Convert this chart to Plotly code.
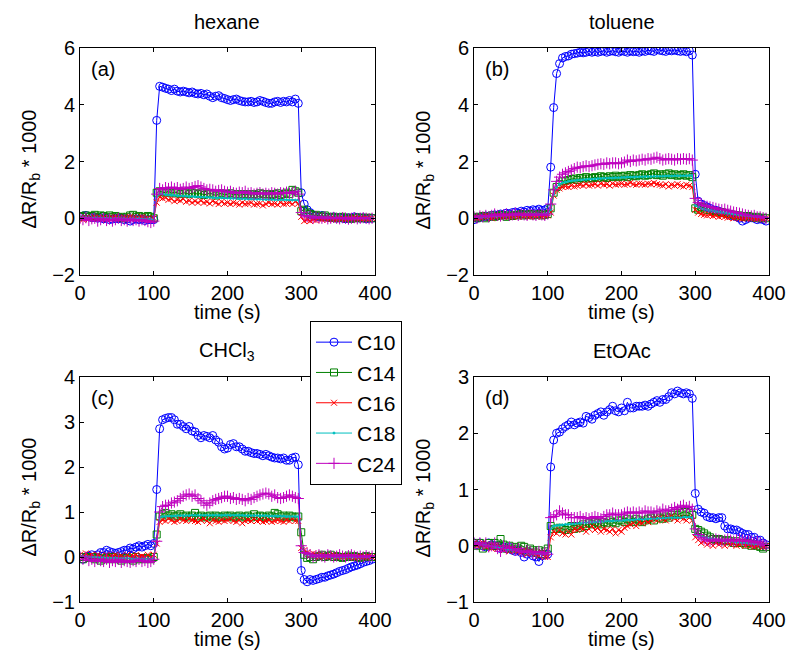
import plotly.graph_objects as go

# time axis (s), sampled every 4 s
time_s = list(range(0, 400, 4))

series_names = ["C10", "C14", "C16", "C18", "C24"]
panel_titles = ["hexane", "toluene", "CHCl<sub>3</sub>", "EtOAc"]
panel_tags = ["(a)", "(b)", "(c)", "(d)"]
x_ticks = [0, 100, 200, 300, 400]
y_ranges = [[-2, 6], [-2, 6], [-1, 4], [-1, 3]]
y_ticks = [[-2, 0, 2, 4, 6], [-2, 0, 2, 4, 6], [-1, 0, 1, 2, 3, 4], [-1, 0, 1, 2, 3]]

# ---------------- (a) hexane ----------------
a_C10 = [0.05,0.08,0.1,0.05,0.02,0.03,0.0,0.02,-0.02,0.0,-0.05,-0.03,0.0,-0.02,0.0,-0.05,-0.03,-0.1,-0.05,-0.02,-0.05,-0.03,-0.08,-0.05,-0.05,
         -0.05,3.45,4.65,4.62,4.58,4.55,4.5,4.55,4.48,4.45,4.48,4.45,4.42,4.45,4.4,4.38,4.4,4.35,4.38,4.3,4.25,4.3,4.32,4.25,4.22,
         4.18,4.15,4.18,4.2,4.15,4.12,4.1,4.1,4.12,4.08,4.1,4.15,4.12,4.08,4.05,4.05,4.1,4.12,4.08,4.12,4.1,4.15,4.1,4.2,4.05,
         0.9,0.5,0.3,0.2,0.12,0.08,0.05,0.1,0.05,0.03,0.02,0.05,0.0,0.03,0.0,-0.02,0.02,0.0,0.05,0.03,0.0,0.02,-0.02,0.0,0.0]
a_C14 = [0.08,0.05,0.1,0.05,0.08,0.12,0.05,0.1,0.08,0.05,0.1,0.05,0.08,0.03,0.05,0.0,0.05,0.1,0.12,0.05,0.08,0.03,0.05,0.08,0.05,
         0.0,0.9,0.95,0.92,0.9,0.95,0.88,0.92,0.9,0.85,0.9,0.88,0.85,0.9,0.88,0.85,0.88,0.82,0.85,0.88,0.85,0.8,0.85,0.88,0.82,
         0.85,0.88,0.82,0.85,0.8,0.85,0.82,0.85,0.8,0.85,0.82,0.88,0.85,0.8,0.85,0.82,0.85,0.88,0.82,0.85,0.9,0.85,1.0,0.95,0.9,
         0.25,0.3,0.2,0.15,0.1,0.12,0.08,0.05,0.1,0.05,0.02,0.05,0.0,0.03,0.05,0.0,0.02,-0.02,0.0,0.03,0.0,0.02,0.0,0.02,0.0]
a_C16 = [0.0,-0.05,0.02,-0.03,0.0,0.05,-0.02,0.0,0.03,-0.05,0.0,0.02,0.05,0.0,-0.03,0.03,0.0,0.05,0.02,-0.03,0.0,0.05,-0.02,0.0,-0.05,
         0.0,0.55,0.75,0.7,0.72,0.65,0.68,0.6,0.65,0.62,0.68,0.58,0.62,0.55,0.6,0.55,0.62,0.55,0.58,0.52,0.6,0.55,0.5,0.58,0.52,
         0.55,0.5,0.55,0.52,0.48,0.55,0.5,0.52,0.55,0.48,0.5,0.52,0.45,0.5,0.55,0.5,0.52,0.48,0.55,0.5,0.52,0.55,0.5,0.58,0.52,
         0.05,-0.1,-0.05,-0.1,-0.05,-0.08,0.0,-0.05,-0.02,-0.05,0.0,-0.03,-0.05,0.0,-0.02,-0.05,0.0,-0.02,0.02,-0.03,0.0,-0.02,0.0,-0.03,0.0]
a_C18 = [0.03,0.02,0.03,0.02,0.01,0.02,0.0,0.01,0.0,0.01,0.0,-0.01,0.0,0.0,-0.01,0.0,-0.02,0.0,-0.01,-0.02,0.0,-0.02,-0.03,-0.02,-0.03,
         -0.05,0.75,0.85,0.85,0.83,0.82,0.82,0.8,0.8,0.79,0.78,0.78,0.77,0.77,0.76,0.75,0.75,0.74,0.74,0.73,0.73,0.72,0.72,0.72,0.71,
         0.71,0.7,0.7,0.7,0.69,0.69,0.68,0.68,0.68,0.67,0.67,0.67,0.66,0.66,0.66,0.66,0.65,0.65,0.65,0.65,0.65,0.64,0.64,0.64,0.64,
         0.2,0.12,0.08,0.06,0.05,0.04,0.03,0.03,0.02,0.02,0.02,0.01,0.01,0.01,0.0,0.0,0.0,0.0,0.0,0.0,0.0,0.0,0.0,0.0,0.0]
a_C24 = [0.0,-0.05,0.02,-0.08,-0.02,0.0,-0.1,-0.05,0.0,-0.08,-0.03,-0.1,-0.05,0.0,-0.08,-0.05,-0.1,-0.02,-0.08,-0.05,-0.1,-0.05,-0.08,-0.12,-0.15,
         -0.1,0.85,1.05,1.0,1.08,1.05,1.1,1.05,1.08,1.02,1.05,1.1,1.05,1.08,1.12,1.15,1.1,1.05,1.0,1.02,1.0,0.95,0.98,1.0,0.95,
         0.92,0.95,0.9,0.88,0.92,0.9,0.95,0.88,0.9,0.85,0.88,0.9,0.85,0.88,0.85,0.9,0.88,0.85,0.9,0.88,0.92,0.88,0.9,0.95,0.85,
         0.2,0.1,0.05,0.08,0.0,0.05,0.02,0.0,0.05,-0.02,0.0,0.03,0.0,-0.02,0.02,0.0,-0.03,0.0,0.02,-0.02,0.0,0.02,0.0,-0.02,0.0]

# ---------------- (b) toluene ----------------
b_C10 = [-0.05,0.0,0.02,0.05,0.08,0.05,0.1,0.12,0.1,0.15,0.12,0.18,0.15,0.2,0.22,0.18,0.25,0.22,0.28,0.25,0.3,0.28,0.32,0.28,0.3,
         0.35,1.8,3.9,5.1,5.45,5.65,5.7,5.72,5.78,5.8,5.82,5.85,5.83,5.85,5.88,5.85,5.87,5.85,5.88,5.9,5.85,5.88,5.9,5.87,5.85,
         5.9,5.88,5.85,5.9,5.87,5.88,5.85,5.9,5.88,5.92,5.9,5.88,5.95,5.92,5.9,5.88,5.92,5.9,5.93,5.9,5.88,5.9,5.87,5.9,5.75,
         1.55,0.6,0.5,0.45,0.4,0.35,0.3,0.28,0.25,0.2,0.18,0.15,0.1,0.08,0.05,0.0,-0.1,-0.05,0.0,0.02,0.0,-0.05,-0.02,-0.05,-0.1]
b_C14 = [0.05,0.0,0.05,0.08,0.0,0.05,0.1,0.05,0.08,0.12,0.1,0.05,0.1,0.08,0.12,0.1,0.15,0.1,0.12,0.15,0.1,0.12,0.15,0.1,0.12,
         0.15,0.35,0.9,1.1,1.2,1.3,1.32,1.35,1.38,1.4,1.35,1.42,1.4,1.45,1.4,1.42,1.45,1.42,1.48,1.45,1.42,1.48,1.45,1.5,1.45,
         1.48,1.5,1.45,1.52,1.5,1.48,1.52,1.55,1.5,1.52,1.55,1.58,1.52,1.55,1.5,1.55,1.58,1.52,1.55,1.5,1.52,1.55,1.5,1.52,1.45,
         0.35,0.3,0.4,0.35,0.3,0.28,0.25,0.25,0.2,0.22,0.18,0.15,0.15,0.12,0.1,0.1,0.08,0.05,0.08,0.05,0.02,0.05,0.0,0.02,0.0]
b_C16 = [0.05,0.0,0.02,0.05,0.1,0.05,0.0,0.05,0.1,0.08,0.05,0.1,0.05,0.08,0.1,0.05,0.12,0.08,0.1,0.05,0.1,0.08,0.12,0.05,0.1,
         0.1,0.2,0.8,1.0,1.05,1.1,1.12,1.1,1.15,1.12,1.15,1.18,1.15,1.2,1.15,1.18,1.2,1.15,1.22,1.18,1.2,1.15,1.22,1.18,1.2,
         1.22,1.18,1.2,1.25,1.2,1.18,1.22,1.2,1.18,1.22,1.2,1.25,1.2,1.18,1.15,1.2,1.12,1.18,1.15,1.2,1.15,1.12,1.18,1.15,1.1,
         0.3,0.2,0.15,0.12,0.1,0.12,0.08,0.1,0.05,0.08,0.05,0.02,0.05,0.0,0.02,0.0,-0.02,0.0,0.02,-0.02,0.0,-0.02,0.0,-0.03,0.0]
b_C18 = [0.02,0.03,0.04,0.05,0.06,0.06,0.07,0.08,0.08,0.09,0.1,0.1,0.1,0.11,0.11,0.12,0.12,0.12,0.13,0.13,0.13,0.14,0.14,0.14,0.15,
         0.15,0.3,0.85,1.1,1.2,1.25,1.28,1.3,1.32,1.33,1.34,1.35,1.36,1.37,1.38,1.38,1.39,1.4,1.4,1.41,1.41,1.42,1.42,1.43,1.43,
         1.44,1.44,1.45,1.45,1.45,1.46,1.46,1.46,1.47,1.47,1.47,1.48,1.48,1.48,1.48,1.49,1.49,1.49,1.5,1.5,1.5,1.5,1.5,1.51,1.5,
         0.45,0.4,0.35,0.32,0.3,0.28,0.26,0.24,0.22,0.2,0.19,0.17,0.16,0.14,0.13,0.12,0.1,0.09,0.08,0.07,0.06,0.05,0.04,0.03,0.02]
b_C24 = [0.05,0.0,0.08,0.05,0.1,0.05,0.1,0.15,0.1,0.08,0.12,0.15,0.1,0.12,0.18,0.1,0.15,0.12,0.1,0.15,0.12,0.1,0.15,0.12,0.1,
         0.15,0.5,1.0,1.3,1.45,1.55,1.6,1.65,1.7,1.75,1.8,1.78,1.82,1.85,1.82,1.85,1.88,1.9,1.92,1.9,1.95,1.92,1.95,1.95,1.92,
         1.95,1.98,2.05,2.0,2.05,2.02,2.05,2.08,2.05,2.1,2.08,2.12,2.15,2.1,2.05,2.08,2.1,2.08,2.05,2.1,2.08,2.1,2.08,2.1,2.05,
         0.7,0.55,0.5,0.45,0.42,0.4,0.38,0.35,0.32,0.3,0.32,0.28,0.25,0.22,0.2,0.18,0.15,0.12,0.1,0.08,0.1,0.05,0.05,0.02,0.0]

# ---------------- (c) CHCl3 ----------------
c_C10 = [0.0,-0.05,0.0,0.02,0.05,0.0,0.05,0.1,0.1,0.15,0.12,0.1,0.08,0.1,0.12,0.15,0.15,0.2,0.18,0.22,0.25,0.22,0.25,0.28,0.25,
         0.3,1.5,2.85,3.05,3.08,3.1,3.1,3.05,2.95,2.95,2.9,2.85,2.9,2.8,2.78,2.7,2.65,2.7,2.68,2.65,2.7,2.6,2.55,2.45,2.4,
         2.42,2.5,2.52,2.45,2.45,2.4,2.35,2.35,2.32,2.3,2.3,2.28,2.25,2.28,2.25,2.22,2.2,2.2,2.18,2.2,2.15,2.15,2.2,2.22,2.05,
         -0.3,-0.5,-0.55,-0.5,-0.52,-0.5,-0.48,-0.45,-0.45,-0.42,-0.4,-0.38,-0.35,-0.32,-0.3,-0.28,-0.25,-0.22,-0.2,-0.18,-0.15,-0.12,-0.1,-0.08,-0.05]
c_C14 = [0.0,-0.05,0.0,-0.02,0.0,-0.05,-0.02,-0.08,-0.05,-0.02,-0.05,0.0,-0.05,-0.02,-0.08,-0.05,-0.02,-0.05,-0.08,0.0,-0.05,-0.03,-0.05,-0.02,-0.05,
         0.0,0.5,0.9,0.95,0.98,0.92,0.95,0.9,0.92,0.95,0.9,0.92,0.88,0.92,0.98,0.9,0.92,0.88,0.9,0.92,0.88,0.92,0.9,0.88,0.92,
         0.9,0.92,0.88,0.9,0.92,0.88,0.9,0.92,0.88,0.95,0.9,0.92,0.9,0.88,0.92,0.9,0.98,0.95,0.9,0.92,0.88,0.92,0.9,0.88,0.9,
         0.55,0.05,-0.02,0.0,-0.05,0.0,0.02,0.05,0.0,0.02,0.05,0.0,0.02,0.0,-0.02,0.0,0.03,0.0,0.02,0.0,-0.02,0.0,0.02,0.0,0.0]
c_C16 = [0.05,0.0,0.08,0.02,0.05,0.0,0.05,0.02,-0.02,0.05,0.0,0.02,0.05,0.0,0.03,-0.02,0.05,0.0,0.02,0.05,0.0,0.02,0.0,0.05,0.0,
         0.05,0.3,0.78,0.82,0.8,0.85,0.82,0.78,0.8,0.85,0.82,0.8,0.85,0.82,0.8,0.78,0.82,0.85,0.8,0.75,0.82,0.8,0.78,0.82,0.8,
         0.82,0.85,0.8,0.78,0.82,0.75,0.8,0.82,0.8,0.85,0.8,0.82,0.78,0.8,0.82,0.78,0.8,0.82,0.8,0.78,0.82,0.8,0.85,0.8,0.8,
         0.2,0.15,0.1,0.05,0.08,0.05,0.0,0.05,0.02,0.0,0.03,0.05,0.0,0.02,0.0,0.03,0.0,0.02,-0.02,0.0,0.02,0.0,0.0,0.02,0.0]
c_C18 = [0.02,0.01,0.01,0.0,0.0,0.0,-0.01,-0.01,-0.01,-0.02,-0.02,-0.02,-0.02,-0.03,-0.03,-0.03,-0.03,-0.03,-0.04,-0.04,-0.04,-0.04,-0.04,-0.04,-0.05,
         -0.02,0.4,0.88,0.9,0.9,0.91,0.91,0.91,0.92,0.92,0.92,0.92,0.92,0.93,0.93,0.93,0.93,0.93,0.93,0.93,0.93,0.93,0.93,0.93,0.93,
         0.93,0.93,0.93,0.93,0.93,0.93,0.92,0.92,0.92,0.92,0.92,0.92,0.92,0.92,0.91,0.91,0.91,0.91,0.91,0.91,0.9,0.9,0.9,0.9,0.9,
         0.25,0.1,0.06,0.04,0.03,0.02,0.02,0.01,0.01,0.01,0.0,0.0,0.0,0.0,0.0,0.0,0.0,0.0,0.0,0.0,0.0,0.0,0.0,0.0,0.0]
c_C24 = [0.0,-0.05,0.0,-0.08,-0.05,-0.1,-0.05,-0.08,-0.1,-0.05,-0.12,-0.08,-0.1,-0.05,-0.12,-0.08,-0.1,-0.12,-0.08,-0.1,-0.05,-0.1,-0.08,-0.12,-0.1,
         -0.05,0.35,1.0,1.12,1.15,1.15,1.2,1.22,1.25,1.3,1.35,1.38,1.4,1.35,1.38,1.3,1.25,1.2,1.15,1.2,1.25,1.28,1.3,1.32,1.35,
         1.35,1.3,1.32,1.28,1.3,1.28,1.25,1.3,1.28,1.32,1.35,1.38,1.4,1.42,1.4,1.35,1.38,1.32,1.3,1.32,1.35,1.38,1.35,1.32,1.3,
         0.25,0.1,0.08,0.05,0.0,0.02,0.05,0.02,0.0,0.05,0.03,0.0,0.02,0.05,0.02,0.0,0.03,0.05,0.02,0.0,0.02,0.0,0.03,0.0,0.02]

# ---------------- (d) EtOAc ----------------
d_C10 = [0.05,0.02,0.05,0.0,-0.02,0.05,0.02,0.0,0.0,-0.05,-0.02,-0.05,-0.03,-0.08,-0.1,-0.08,-0.12,-0.2,-0.15,-0.12,-0.18,-0.2,-0.28,-0.18,-0.15,
         -0.15,1.4,1.88,2.0,2.02,2.08,2.12,2.15,2.2,2.15,2.18,2.2,2.18,2.3,2.28,2.25,2.32,2.35,2.38,2.32,2.38,2.42,2.48,2.4,2.38,
         2.45,2.4,2.55,2.45,2.45,2.48,2.48,2.48,2.5,2.48,2.52,2.55,2.58,2.55,2.6,2.6,2.65,2.72,2.7,2.75,2.72,2.7,2.72,2.7,2.62,
         0.93,0.65,0.6,0.58,0.52,0.5,0.5,0.48,0.5,0.5,0.35,0.3,0.3,0.28,0.28,0.25,0.22,0.2,0.2,0.15,0.15,0.1,0.1,0.05,0.02]
d_C14 = [0.05,0.0,0.05,-0.05,0.0,0.05,0.0,0.05,0.0,0.12,0.02,-0.05,0.0,-0.05,-0.02,-0.05,0.0,-0.02,-0.1,-0.05,-0.08,-0.12,-0.08,-0.15,-0.1,
         -0.05,0.35,0.3,0.3,0.32,0.3,0.28,0.32,0.35,0.3,0.35,0.32,0.38,0.35,0.4,0.38,0.42,0.4,0.38,0.42,0.4,0.45,0.42,0.4,0.45,
         0.45,0.42,0.48,0.45,0.42,0.48,0.45,0.42,0.45,0.48,0.5,0.45,0.55,0.5,0.48,0.52,0.5,0.55,0.58,0.55,0.58,0.6,0.6,0.58,0.55,
         0.3,0.28,0.25,0.22,0.18,0.15,0.12,0.1,0.12,0.1,0.08,0.1,0.08,0.05,0.08,0.05,0.05,0.02,0.05,0.0,0.02,0.0,-0.02,-0.05,-0.02]
d_C16 = [0.05,0.0,0.02,0.05,-0.02,0.0,-0.05,0.0,-0.05,-0.02,-0.08,-0.05,-0.1,-0.05,-0.08,-0.1,-0.12,-0.08,-0.15,-0.1,-0.12,-0.15,-0.18,-0.12,-0.2,
         -0.2,0.15,0.25,0.22,0.28,0.22,0.2,0.25,0.2,0.3,0.28,0.32,0.3,0.25,0.3,0.35,0.28,0.32,0.25,0.3,0.28,0.25,0.3,0.22,0.28,
         0.25,0.32,0.35,0.38,0.4,0.35,0.42,0.4,0.45,0.42,0.45,0.48,0.45,0.5,0.48,0.45,0.5,0.52,0.48,0.45,0.5,0.48,0.45,0.5,0.45,
         0.15,0.1,0.05,0.08,0.02,0.05,0.0,0.05,0.02,0.05,0.0,0.05,0.02,0.05,0.0,0.02,0.05,0.0,0.02,0.0,-0.02,0.0,0.02,-0.02,0.0]
d_C18 = [0.05,0.04,0.03,0.02,0.01,0.0,-0.01,-0.02,-0.03,-0.04,-0.05,-0.06,-0.07,-0.08,-0.08,-0.09,-0.1,-0.11,-0.12,-0.12,-0.13,-0.14,-0.14,-0.15,-0.15,
         -0.15,0.3,0.35,0.36,0.37,0.37,0.38,0.38,0.39,0.39,0.4,0.4,0.41,0.41,0.42,0.42,0.42,0.43,0.43,0.43,0.44,0.44,0.44,0.45,0.45,
         0.45,0.45,0.46,0.46,0.46,0.47,0.47,0.47,0.47,0.48,0.48,0.48,0.48,0.49,0.49,0.49,0.5,0.5,0.5,0.5,0.5,0.51,0.51,0.51,0.5,
         0.2,0.18,0.16,0.15,0.14,0.13,0.12,0.11,0.1,0.1,0.09,0.08,0.08,0.07,0.06,0.06,0.05,0.05,0.04,0.04,0.03,0.03,0.02,0.02,0.02]
d_C24 = [0.05,0.02,0.05,0.0,0.05,-0.02,0.0,0.05,-0.05,-0.1,0.0,-0.05,-0.02,-0.05,-0.08,-0.05,-0.1,-0.12,-0.08,-0.1,-0.15,-0.12,-0.1,-0.15,-0.12,
         -0.15,0.5,0.52,0.55,0.62,0.58,0.55,0.55,0.5,0.5,0.5,0.52,0.48,0.5,0.48,0.5,0.52,0.5,0.48,0.52,0.55,0.55,0.58,0.55,0.55,
         0.55,0.58,0.6,0.58,0.6,0.58,0.6,0.58,0.62,0.6,0.6,0.58,0.62,0.6,0.65,0.62,0.62,0.65,0.68,0.65,0.7,0.72,0.68,0.7,0.65,
         0.3,0.2,0.15,0.12,0.1,0.08,0.1,0.12,0.1,0.08,0.1,0.12,0.1,0.08,0.1,0.12,0.1,0.08,0.1,0.08,0.05,0.08,0.05,0.02,0.0]

panels = [
    [a_C10, a_C14, a_C16, a_C18, a_C24],
    [b_C10, b_C14, b_C16, b_C18, b_C24],
    [c_C10, c_C14, c_C16, c_C18, c_C24],
    [d_C10, d_C14, d_C16, d_C18, d_C24],
]

# styles
colors = ["#0000FF", "#008000", "#FF0000", "#00BFBF", "#BF00BF"]
symbols = ["circle-open", "square-open", "x-thin-open", "circle", "cross-thin-open"]
msizes = [8, 7, 6, 2, 8]

W, H = 794, 655
# axes boxes in pixels: (left, right, top, bottom)
boxes = [(80, 375, 48, 275), (474, 769, 48, 275), (80, 375, 377, 602), (474, 769, 377, 602)]

FONT = "Liberation Sans, Arial, Helvetica, sans-serif"

fig = go.Figure()
for p in range(4):
    ax = "" if p == 0 else str(p + 1)
    for s in range(5):
        fig.add_trace(go.Scatter(
            x=time_s, y=panels[p][s], mode="lines+markers", name=series_names[s],
            xaxis="x" + ax, yaxis="y" + ax, showlegend=(p == 0),
            legendgroup=series_names[s],
            line=dict(color=colors[s], width=1),
            marker=dict(symbol=symbols[s], size=msizes[s], color=colors[s],
                        line=dict(color=colors[s], width=1)),
        ))

layout = dict(
    width=W, height=H, margin=dict(l=0, r=0, t=0, b=0, autoexpand=False),
    paper_bgcolor="white", plot_bgcolor="white",
    font=dict(family=FONT, size=20, color="black"),
    showlegend=True,
    legend=dict(x=310 / W, y=1 - 321 / H, xanchor="left", yanchor="top",
                bgcolor="white", bordercolor="black", borderwidth=1,
                font=dict(size=21), itemwidth=36, tracegroupgap=0),
)
annotations = []
for p in range(4):
    l, r, t, b = boxes[p]
    ax = "" if p == 0 else str(p + 1)
    common = dict(showline=True, linecolor="black", linewidth=1, mirror="ticks",
                  ticks="inside", ticklen=4, tickcolor="black", showgrid=False,
                  zeroline=False, tickfont=dict(size=20), automargin=False)
    layout["xaxis" + ax] = dict(domain=[l / W, r / W], range=[0, 400], tickvals=x_ticks,
                               anchor="y" + ax, **common)
    layout["yaxis" + ax] = dict(domain=[1 - b / H, 1 - t / H], range=y_ranges[p],
                               tickvals=y_ticks[p], anchor="x" + ax, **common)
    cx = (l + r) / 2
    # title
    annotations.append(dict(text=panel_titles[p], x=cx / W, y=1 - (t - 26) / H, xref="paper", yref="paper",
                            showarrow=False, xanchor="center", yanchor="middle", font=dict(size=20)))
    # x label
    annotations.append(dict(text="time (s)", x=cx / W, y=1 - (b + 37) / H, xref="paper", yref="paper",
                            showarrow=False, xanchor="center", yanchor="middle", font=dict(size=20)))
    # y label
    annotations.append(dict(text="ΔR/R<sub>b</sub> * 1000", x=(l - 50) / W, y=1 - ((t + b) / 2 + 8) / H,
                            xref="paper", yref="paper", textangle=-90, showarrow=False,
                            xanchor="center", yanchor="middle", font=dict(size=20)))
    # panel tag
    annotations.append(dict(text=panel_tags[p], x=(l + 9) / W, y=1 - (t + 21) / H, xref="paper", yref="paper",
                            showarrow=False, xanchor="left", yanchor="middle", font=dict(size=20)))
layout["annotations"] = annotations
fig.update_layout(**layout)
fig.write_html("out.html", config={"displayModeBar": False},
               post_script="document.body.style.margin='0px';")
